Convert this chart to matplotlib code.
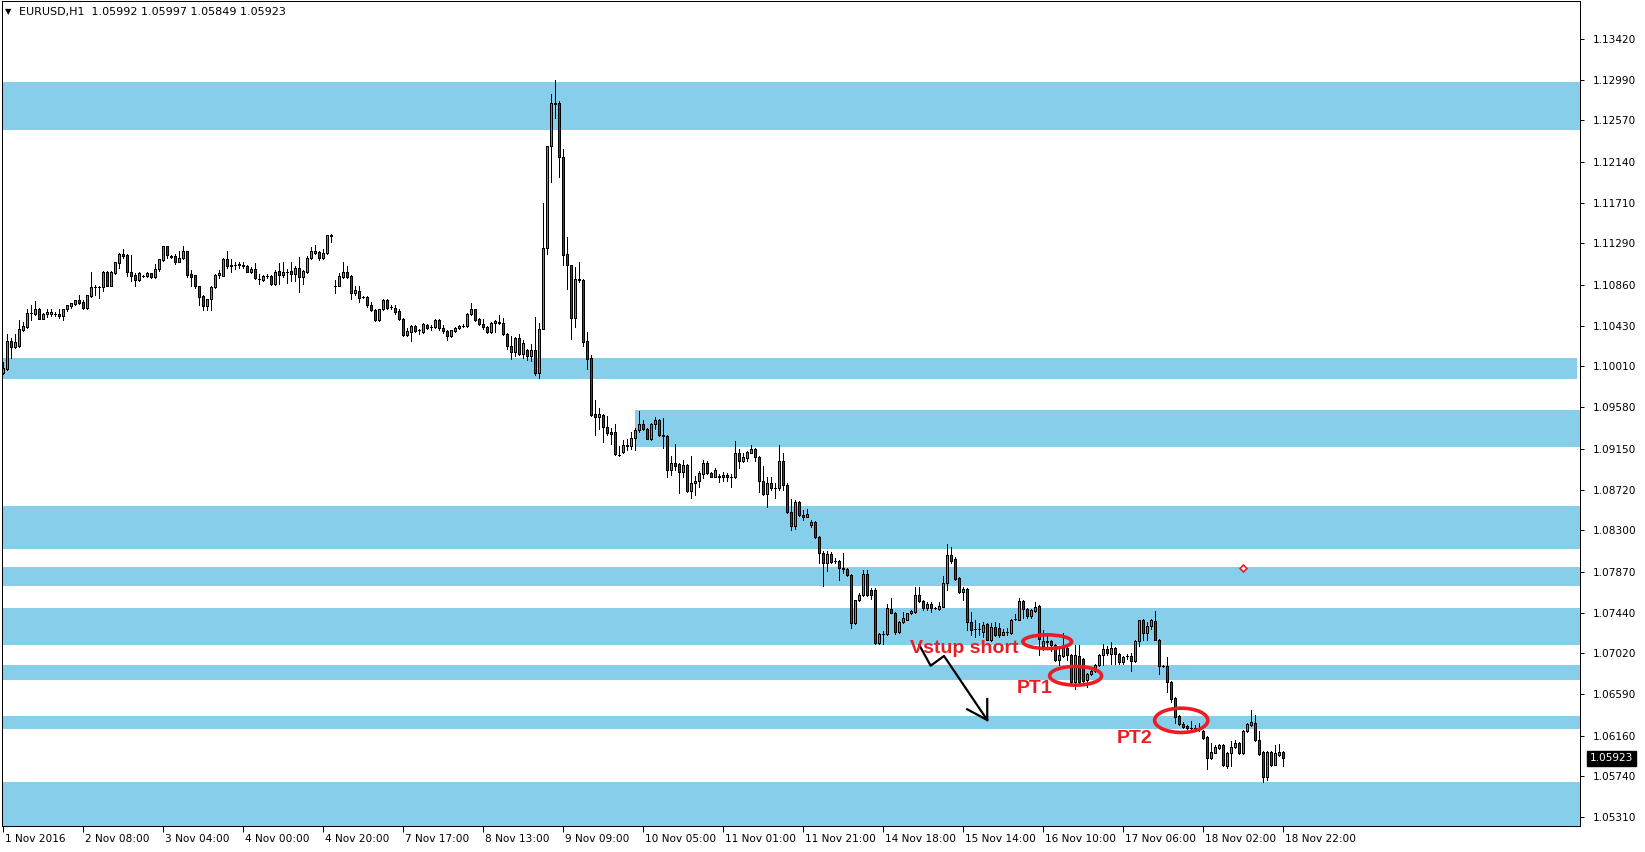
import numpy as np
import matplotlib
matplotlib.use("Agg")
import matplotlib.pyplot as plt
from matplotlib.patches import Ellipse
from matplotlib import transforms

# EURUSD H1 bars, 1 Nov 2016 12:00 .. 18 Nov 22:00
opens = [
    1.0994, 1.0998, 1.1027, 1.1021, 1.1022, 1.1039, 1.1042, 1.1056, 1.1055, 1.1061,
    1.1050, 1.1055, 1.1055, 1.1055, 1.1055, 1.1053, 1.1060, 1.1064, 1.1066, 1.1070,
    1.1068, 1.1062, 1.1074, 1.1083, 1.1083, 1.1083, 1.1099, 1.1085, 1.1098, 1.1108,
    1.1118, 1.1117, 1.1099, 1.1096, 1.1091, 1.1095, 1.1095, 1.1098, 1.1094, 1.1102,
    1.1112, 1.1126, 1.1116, 1.1116, 1.1110, 1.1114, 1.1121, 1.1097, 1.1096, 1.1084,
    1.1074, 1.1064, 1.1071, 1.1083, 1.1096, 1.1095, 1.1113, 1.1105, 1.1106, 1.1106,
    1.1106, 1.1105, 1.1099, 1.1102, 1.1092, 1.1091, 1.1095, 1.1095, 1.1087, 1.1100,
    1.1096, 1.1099, 1.1100, 1.1097, 1.1103, 1.1094, 1.1099, 1.1114, 1.1119, 1.1120,
    1.1114, 1.1119, 1.1137, 1.1085, 1.1085, 1.1094, 1.1099, 1.1095, 1.1077, 1.1079,
    1.1073, 1.1073, 1.1065, 1.1059, 1.1049, 1.1060, 1.1070, 1.1063, 1.1062, 1.1058,
    1.1050, 1.1033, 1.1037, 1.1043, 1.1039, 1.1037, 1.1044, 1.1042, 1.1042, 1.1049,
    1.1041, 1.1038, 1.1032, 1.1038, 1.1041, 1.1043, 1.1043, 1.1055, 1.1060, 1.1050,
    1.1045, 1.1042, 1.1037, 1.1046, 1.1047, 1.1046, 1.1034, 1.1022, 1.1016, 1.1030,
    1.1014, 1.1018, 1.1012, 1.1018, 1.0994, 1.1040, 1.1124, 1.1230, 1.1275, 1.1275,
    1.1219, 1.1118, 1.1106, 1.1051, 1.1092, 1.1091, 1.1027, 1.1009, 1.0951, 1.0948,
    1.0950, 1.0938, 1.0932, 1.0932, 1.0908, 1.0912, 1.0918, 1.0918, 1.0926, 1.0934,
    1.0941, 1.0936, 1.0925, 1.0941, 1.0945, 1.0929, 1.0928, 1.0893, 1.0900, 1.0899,
    1.0891, 1.0898, 1.0871, 1.0879, 1.0881, 1.0889, 1.0900, 1.0890, 1.0886, 1.0887,
    1.0885, 1.0888, 1.0885, 1.0885, 1.0910, 1.0902, 1.0905, 1.0911, 1.0915, 1.0906,
    1.0881, 1.0868, 1.0879, 1.0874, 1.0874, 1.0902, 1.0877, 1.0849, 1.0834, 1.0859,
    1.0846, 1.0844, 1.0836, 1.0839, 1.0823, 1.0806, 1.0796, 1.0805, 1.0798, 1.0798,
    1.0791, 1.0790, 1.0783, 1.0733, 1.0757, 1.0763, 1.0784, 1.0768, 1.0768, 1.0713,
    1.0722, 1.0722, 1.0748, 1.0744, 1.0724, 1.0734, 1.0737, 1.0744, 1.0745, 1.0763,
    1.0756, 1.0749, 1.0753, 1.0749, 1.0748, 1.0750, 1.0775, 1.0804, 1.0800, 1.0780,
    1.0766, 1.0769, 1.0734, 1.0727, 1.0727, 1.0724, 1.0732, 1.0716, 1.0729, 1.0728,
    1.0721, 1.0724, 1.0723, 1.0738, 1.0737, 1.0756, 1.0748, 1.0741, 1.0746, 1.0751,
    1.0709, 1.0715, 1.0715, 1.0710, 1.0695, 1.0699, 1.0707, 1.0700, 1.0672, 1.0699,
    1.0696, 1.0674, 1.0680, 1.0683, 1.0690, 1.0700, 1.0706, 1.0701, 1.0707, 1.0701,
    1.0693, 1.0699, 1.0699, 1.0694, 1.0715, 1.0736, 1.0723, 1.0730, 1.0735, 1.0716,
    1.0689, 1.0689, 1.0672, 1.0655, 1.0636, 1.0628, 1.0626, 1.0624, 1.0624, 1.0624,
    1.0621, 1.0615, 1.0593, 1.0598, 1.0603, 1.0606, 1.0584, 1.0598, 1.0604, 1.0608,
    1.0598, 1.0621, 1.0627, 1.0629, 1.0611, 1.0599, 1.0573, 1.0599, 1.0585, 1.0596,
    1.05992,
]
highs = [
    1.1005, 1.1034, 1.1030, 1.1034, 1.1049, 1.1047, 1.1060, 1.1065, 1.1069, 1.1062,
    1.1056, 1.1061, 1.1060, 1.1057, 1.1060, 1.1061, 1.1065, 1.1067, 1.1070, 1.1075,
    1.1070, 1.1075, 1.1099, 1.1086, 1.1084, 1.1100, 1.1100, 1.1100, 1.1109, 1.1119,
    1.1123, 1.1118, 1.1117, 1.1098, 1.1099, 1.1096, 1.1099, 1.1098, 1.1107, 1.1113,
    1.1126, 1.1126, 1.1117, 1.1118, 1.1121, 1.1126, 1.1121, 1.1101, 1.1096, 1.1085,
    1.1075, 1.1071, 1.1084, 1.1097, 1.1101, 1.1114, 1.1121, 1.1113, 1.1110, 1.1109,
    1.1109, 1.1106, 1.1104, 1.1108, 1.1097, 1.1096, 1.1097, 1.1096, 1.1101, 1.1108,
    1.1109, 1.1102, 1.1109, 1.1105, 1.1115, 1.1101, 1.1116, 1.1125, 1.1127, 1.1121,
    1.1123, 1.1138, 1.1139, 1.1091, 1.1098, 1.1110, 1.1105, 1.1096, 1.1085, 1.1085,
    1.1074, 1.1074, 1.1068, 1.1060, 1.1061, 1.1071, 1.1071, 1.1065, 1.1065, 1.1061,
    1.1051, 1.1041, 1.1044, 1.1044, 1.1040, 1.1046, 1.1045, 1.1044, 1.1050, 1.1050,
    1.1044, 1.1039, 1.1039, 1.1042, 1.1044, 1.1045, 1.1056, 1.1067, 1.1061, 1.1051,
    1.1050, 1.1043, 1.1047, 1.1049, 1.1054, 1.1051, 1.1035, 1.1032, 1.1031, 1.1034,
    1.1028, 1.1019, 1.1024, 1.1052, 1.1046, 1.1171, 1.1230, 1.1284, 1.1299, 1.1277,
    1.1227, 1.1136, 1.1106, 1.1104, 1.1109, 1.1092, 1.1037, 1.1013, 1.0966, 1.0957,
    1.0951, 1.0949, 1.0937, 1.0941, 1.0918, 1.0924, 1.0925, 1.0932, 1.0937, 1.0954,
    1.0945, 1.0937, 1.0942, 1.0948, 1.0946, 1.0947, 1.0929, 1.0907, 1.0920, 1.0900,
    1.0903, 1.0899, 1.0907, 1.0887, 1.0892, 1.0903, 1.0902, 1.0891, 1.0895, 1.0889,
    1.0891, 1.0890, 1.0889, 1.0923, 1.0915, 1.0911, 1.0913, 1.0919, 1.0916, 1.0907,
    1.0897, 1.0885, 1.0885, 1.0879, 1.0919, 1.0911, 1.0879, 1.0863, 1.0862, 1.0860,
    1.0851, 1.0852, 1.0841, 1.0840, 1.0824, 1.0808, 1.0808, 1.0807, 1.0801, 1.0799,
    1.0806, 1.0791, 1.0784, 1.0757, 1.0765, 1.0789, 1.0789, 1.0770, 1.0770, 1.0723,
    1.0725, 1.0753, 1.0759, 1.0745, 1.0735, 1.0745, 1.0744, 1.0747, 1.0771, 1.0771,
    1.0757, 1.0755, 1.0755, 1.0750, 1.0755, 1.0782, 1.0816, 1.0813, 1.0802, 1.0781,
    1.0771, 1.0770, 1.0745, 1.0736, 1.0733, 1.0734, 1.0733, 1.0733, 1.0734, 1.0733,
    1.0727, 1.0728, 1.0738, 1.0743, 1.0759, 1.0757, 1.0749, 1.0748, 1.0755, 1.0752,
    1.0726, 1.0722, 1.0716, 1.0712, 1.0709, 1.0723, 1.0709, 1.0701, 1.0710, 1.0710,
    1.0697, 1.0681, 1.0688, 1.0691, 1.0701, 1.0711, 1.0709, 1.0714, 1.0708, 1.0702,
    1.0699, 1.0701, 1.0702, 1.0716, 1.0737, 1.0738, 1.0734, 1.0738, 1.0746, 1.0717,
    1.0690, 1.0698, 1.0673, 1.0656, 1.0638, 1.0630, 1.0627, 1.0631, 1.0627, 1.0629,
    1.0622, 1.0616, 1.0608, 1.0606, 1.0607, 1.0607, 1.0599, 1.0610, 1.0612, 1.0609,
    1.0622, 1.0629, 1.0643, 1.0638, 1.0621, 1.0600, 1.0600, 1.0600, 1.0606, 1.0607,
    1.05997,
]
lows = [
    1.0993, 1.0997, 1.1009, 1.1020, 1.1021, 1.1038, 1.1041, 1.1049, 1.1054, 1.1050,
    1.1050, 1.1052, 1.1053, 1.1053, 1.1051, 1.1049, 1.1058, 1.1062, 1.1065, 1.1066,
    1.1061, 1.1061, 1.1073, 1.1075, 1.1072, 1.1079, 1.1084, 1.1084, 1.1097, 1.1103,
    1.1114, 1.1095, 1.1090, 1.1084, 1.1090, 1.1094, 1.1094, 1.1093, 1.1093, 1.1100,
    1.1111, 1.1114, 1.1114, 1.1107, 1.1109, 1.1113, 1.1094, 1.1084, 1.1082, 1.1065,
    1.1059, 1.1059, 1.1059, 1.1082, 1.1093, 1.1095, 1.1103, 1.1099, 1.1102, 1.1103,
    1.1103, 1.1099, 1.1098, 1.1092, 1.1087, 1.1090, 1.1093, 1.1086, 1.1086, 1.1087,
    1.1094, 1.1088, 1.1090, 1.1090, 1.1078, 1.1087, 1.1098, 1.1113, 1.1118, 1.1112,
    1.1113, 1.1118, 1.1130, 1.1077, 1.1084, 1.1093, 1.1093, 1.1071, 1.1075, 1.1068,
    1.1072, 1.1063, 1.1058, 1.1048, 1.1048, 1.1059, 1.1061, 1.1060, 1.1055, 1.1049,
    1.1032, 1.1032, 1.1027, 1.1037, 1.1034, 1.1036, 1.1040, 1.1039, 1.1041, 1.1039,
    1.1035, 1.1028, 1.1031, 1.1037, 1.1040, 1.1042, 1.1042, 1.1054, 1.1048, 1.1044,
    1.1040, 1.1035, 1.1035, 1.1037, 1.1045, 1.1033, 1.1019, 1.1008, 1.1012, 1.1013,
    1.1009, 1.1007, 1.1006, 1.0992, 1.0989, 1.1040, 1.1118, 1.1193, 1.1259, 1.1198,
    1.1106, 1.1081, 1.1029, 1.1042, 1.1089, 1.1022, 1.0998, 1.0949, 1.0929, 1.0936,
    1.0922, 1.0929, 1.0920, 1.0908, 1.0907, 1.0911, 1.0914, 1.0915, 1.0914, 1.0932,
    1.0934, 1.0925, 1.0924, 1.0935, 1.0928, 1.0916, 1.0886, 1.0888, 1.0893, 1.0869,
    1.0886, 1.0870, 1.0864, 1.0867, 1.0875, 1.0884, 1.0889, 1.0885, 1.0885, 1.0880,
    1.0881, 1.0881, 1.0875, 1.0884, 1.0895, 1.0901, 1.0902, 1.0910, 1.0902, 1.0870,
    1.0867, 1.0854, 1.0872, 1.0864, 1.0872, 1.0872, 1.0848, 1.0830, 1.0831, 1.0845,
    1.0841, 1.0844, 1.0833, 1.0822, 1.0796, 1.0772, 1.0788, 1.0796, 1.0796, 1.0778,
    1.0786, 1.0782, 1.0728, 1.0732, 1.0756, 1.0761, 1.0762, 1.0758, 1.0712, 1.0711,
    1.0712, 1.0721, 1.0744, 1.0722, 1.0723, 1.0733, 1.0736, 1.0743, 1.0744, 1.0755,
    1.0747, 1.0747, 1.0745, 1.0748, 1.0747, 1.0750, 1.0768, 1.0796, 1.0778, 1.0765,
    1.0757, 1.0726, 1.0721, 1.0719, 1.0721, 1.0719, 1.0716, 1.0715, 1.0720, 1.0719,
    1.0721, 1.0721, 1.0722, 1.0737, 1.0736, 1.0739, 1.0739, 1.0739, 1.0745, 1.0700,
    1.0705, 1.0709, 1.0704, 1.0694, 1.0690, 1.0698, 1.0695, 1.0670, 1.0665, 1.0670,
    1.0671, 1.0667, 1.0679, 1.0682, 1.0689, 1.0690, 1.0700, 1.0691, 1.0691, 1.0691,
    1.0691, 1.0696, 1.0683, 1.0693, 1.0709, 1.0716, 1.0716, 1.0727, 1.0716, 1.0680,
    1.0688, 1.0662, 1.0651, 1.0629, 1.0627, 1.0624, 1.0623, 1.0620, 1.0623, 1.0621,
    1.0613, 1.0581, 1.0592, 1.0598, 1.0602, 1.0584, 1.0582, 1.0584, 1.0603, 1.0597,
    1.0597, 1.0620, 1.0626, 1.0610, 1.0596, 1.0568, 1.0570, 1.0584, 1.0585, 1.0595,
    1.05849,
]
closes = [
    1.0999, 1.1027, 1.1021, 1.1026, 1.1040, 1.1043, 1.1056, 1.1056, 1.1061, 1.1050,
    1.1055, 1.1057, 1.1057, 1.1055, 1.1053, 1.1060, 1.1065, 1.1067, 1.1070, 1.1067,
    1.1062, 1.1075, 1.1083, 1.1083, 1.1083, 1.1099, 1.1085, 1.1099, 1.1109, 1.1118,
    1.1116, 1.1099, 1.1095, 1.1091, 1.1098, 1.1095, 1.1098, 1.1094, 1.1102, 1.1113,
    1.1126, 1.1117, 1.1115, 1.1110, 1.1114, 1.1121, 1.1096, 1.1094, 1.1084, 1.1073,
    1.1064, 1.1071, 1.1083, 1.1096, 1.1098, 1.1113, 1.1105, 1.1106, 1.1106, 1.1107,
    1.1105, 1.1099, 1.1102, 1.1093, 1.1092, 1.1095, 1.1095, 1.1087, 1.1099, 1.1096,
    1.1099, 1.1099, 1.1097, 1.1103, 1.1094, 1.1100, 1.1114, 1.1121, 1.1121, 1.1114,
    1.1119, 1.1138, 1.1138, 1.1085, 1.1095, 1.1099, 1.1094, 1.1077, 1.1080, 1.1072,
    1.1073, 1.1065, 1.1059, 1.1049, 1.1060, 1.1070, 1.1062, 1.1063, 1.1057, 1.1050,
    1.1033, 1.1038, 1.1043, 1.1038, 1.1039, 1.1045, 1.1041, 1.1042, 1.1049, 1.1041,
    1.1038, 1.1032, 1.1039, 1.1041, 1.1043, 1.1043, 1.1055, 1.1060, 1.1049, 1.1045,
    1.1042, 1.1037, 1.1046, 1.1048, 1.1046, 1.1034, 1.1022, 1.1016, 1.1030, 1.1014,
    1.1025, 1.1012, 1.1018, 1.0994, 1.1040, 1.1124, 1.1230, 1.1275, 1.1274, 1.1219,
    1.1117, 1.1106, 1.1051, 1.1092, 1.1091, 1.1026, 1.1008, 1.0950, 1.0948, 1.0951,
    1.0938, 1.0931, 1.0930, 1.0909, 1.0908, 1.0919, 1.0919, 1.0926, 1.0934, 1.0941,
    1.0936, 1.0925, 1.0941, 1.0945, 1.0929, 1.0928, 1.0893, 1.0900, 1.0897, 1.0891,
    1.0898, 1.0871, 1.0879, 1.0881, 1.0890, 1.0900, 1.0890, 1.0886, 1.0893, 1.0886,
    1.0888, 1.0885, 1.0885, 1.0910, 1.0902, 1.0906, 1.0912, 1.0915, 1.0906, 1.0881,
    1.0868, 1.0879, 1.0874, 1.0874, 1.0902, 1.0877, 1.0849, 1.0834, 1.0859, 1.0846,
    1.0844, 1.0847, 1.0839, 1.0823, 1.0806, 1.0796, 1.0805, 1.0797, 1.0798, 1.0791,
    1.0790, 1.0783, 1.0733, 1.0757, 1.0763, 1.0784, 1.0763, 1.0763, 1.0713, 1.0722,
    1.0722, 1.0749, 1.0744, 1.0724, 1.0734, 1.0739, 1.0744, 1.0746, 1.0763, 1.0756,
    1.0749, 1.0753, 1.0749, 1.0749, 1.0751, 1.0775, 1.0804, 1.0798, 1.0779, 1.0766,
    1.0769, 1.0734, 1.0726, 1.0727, 1.0727, 1.0731, 1.0716, 1.0729, 1.0721, 1.0721,
    1.0724, 1.0724, 1.0737, 1.0738, 1.0756, 1.0748, 1.0741, 1.0747, 1.0750, 1.0717,
    1.0715, 1.0714, 1.0710, 1.0695, 1.0700, 1.0707, 1.0700, 1.0672, 1.0700, 1.0672,
    1.0673, 1.0680, 1.0683, 1.0690, 1.0700, 1.0706, 1.0702, 1.0707, 1.0701, 1.0693,
    1.0698, 1.0699, 1.0694, 1.0715, 1.0736, 1.0723, 1.0730, 1.0736, 1.0716, 1.0689,
    1.0689, 1.0672, 1.0654, 1.0635, 1.0628, 1.0625, 1.0624, 1.0624, 1.0624, 1.0623,
    1.0614, 1.0593, 1.0599, 1.0604, 1.0606, 1.0585, 1.0598, 1.0604, 1.0608, 1.0598,
    1.0621, 1.0628, 1.0630, 1.0611, 1.0597, 1.0573, 1.0599, 1.0585, 1.0598, 1.0599,
    1.05923,
]

# x axis: one tick every 20 bars
tick_bars = [0, 20, 40, 60, 80, 100, 120, 140, 160, 180, 200, 220, 240, 260, 280, 300, 320]
tick_labels = ["1 Nov 2016", "2 Nov 08:00", "3 Nov 04:00", "4 Nov 00:00", "4 Nov 20:00",
               "7 Nov 17:00", "8 Nov 13:00", "9 Nov 09:00", "10 Nov 05:00", "11 Nov 01:00",
               "11 Nov 21:00", "14 Nov 18:00", "15 Nov 14:00", "16 Nov 10:00",
               "17 Nov 06:00", "18 Nov 02:00", "18 Nov 22:00"]
price_labels = ["1.13420", "1.12990", "1.12570", "1.12140", "1.11710", "1.11290", "1.10860",
                "1.10430", "1.10010", "1.09580", "1.09150", "1.08720", "1.08300", "1.07870",
                "1.07440", "1.07020", "1.06590", "1.06160", "1.05740", "1.05310"]

# support / resistance zones: low, high, first bar, last bar (None = chart edge)
zone_low = [1.1247, 1.0988, 1.0917, 1.0810, 1.0772, 1.0710, 1.0674, 1.0623, 1.0500]
zone_high = [1.1297, 1.1009, 1.0955, 1.0855, 1.0792, 1.0749, 1.0690, 1.0637, 1.0568]
zone_start = [None, None, 158, None, None, None, None, None, None]
zone_end = [None, 393.4, None, None, None, None, None, None, None]

# hand drawn marks
circle_bar = [261.0, 268.1, 294.5]
circle_price = [1.07139, 1.06784, 1.06320]
circle_w = [12.2, 13.0, 13.3]
circle_h = [0.00143, 0.00195, 0.00253]
arrow_bar = [229.0, 231.85, 235.2, 246.0]
arrow_price = [1.07105, 1.06889, 1.06990, 1.06323]
head_bar = [241.0, 246.0, 246.0]
head_price = [1.06435, 1.06323, 1.06542]
notes = ["Vstup short", "PT1", "PT2"]
note_bar = [226.7, 253.3, 278.5]
note_price = [1.07018, 1.06602, 1.06087]

last_price = 1.05923
GREEN = "#22c322"
RED = "#dd0000"
PAINT_RED = "#ed1c24"
ZONE = "#87ceeb"
PX = 0.72  # one pixel in points at dpi 100

o = np.array(opens)
h = np.array(highs)
l = np.array(lows)
c = np.array(closes)
x = np.arange(len(c))

W, H = 1645, 852
fig = plt.figure(figsize=(W / 100, H / 100), dpi=100)
ax = fig.add_axes([2 / W, 1 - 826 / H, (1580 - 2) / W, (826 - 1) / H])
xmin, xmax = -0.325, 394.2
ax.set_xlim(xmin, xmax)
ax.set_ylim(1.05219, 1.13814)

for lo, hi, x0, x1 in zip(zone_low, zone_high, zone_start, zone_end):
    x0 = xmin if x0 is None else x0
    x1 = xmax if x1 is None else x1
    ax.fill_between([x0, x1], lo, hi, color=ZONE, lw=0, zorder=0)

# candles
ax.vlines(x, l, h, color="black", lw=PX, zorder=2, antialiased=False)
up = c >= o
ax.bar(x[up], c[up] - o[up], bottom=o[up], width=0.58, color=GREEN,
       edgecolor="black", lw=PX, zorder=3, antialiased=False)
ax.bar(x[~up], c[~up] - o[~up], bottom=o[~up], width=0.58, color=RED,
       edgecolor="black", lw=PX, zorder=3, antialiased=False)

# annotations
for xb, yp, w, hh in zip(circle_bar, circle_price, circle_w, circle_h):
    ax.add_patch(Ellipse((xb, yp), w, hh, fill=False, ec=PAINT_RED, lw=2.6, zorder=5))
ax.plot(arrow_bar, arrow_price, color="black", lw=1.6, zorder=5)
ax.plot(head_bar, head_price, color="black", lw=1.6, zorder=5)
for txt, xb, yp in zip(notes, note_bar, note_price):
    ax.text(xb, yp, txt, color=PAINT_RED, fontsize=14, fontweight="bold",
            family=["Liberation Sans", "DejaVu Sans"], va="baseline", ha="left", zorder=6)
ax.plot([310], [1.0791], marker="D", ms=3.5, mfc="white", mec=PAINT_RED, mew=1.2, zorder=6)

# axes styling
for s in ax.spines.values():
    s.set_linewidth(PX)
    s.set_color("black")
ax.yaxis.tick_right()
ax.set_yticks([float(v) for v in price_labels])
ax.set_yticklabels(price_labels)
ax.tick_params(axis="y", direction="out", length=3, width=PX, pad=6, labelsize=7.6)
ax.set_xticks(tick_bars)
ax.set_xticklabels(tick_labels)
ax.tick_params(axis="x", direction="out", length=4, width=PX, pad=2, labelsize=7.6)
shift = transforms.ScaledTranslation(2 / 100, 0, fig.dpi_scale_trans)
for lab in ax.get_xticklabels():
    lab.set_horizontalalignment("left")
    lab.set_transform(lab.get_transform() + shift)

ax.annotate(f"{last_price:.5f}", xy=(1, last_price), xycoords=("axes fraction", "data"),
            xytext=(7, 0), textcoords="offset points", va="center", ha="left",
            color="white", fontsize=7.6,
            bbox=dict(boxstyle="square,pad=0.25", fc="black", ec="black"))

fig.text(5 / W, 1 - 12 / H, "\u25bc", fontsize=6, va="center", ha="left")
fig.text(19 / W, 1 - 12 / H, "EURUSD,H1  1.05992 1.05997 1.05849 1.05923",
         fontsize=8, va="center", ha="left")

fig.savefig("out.png", dpi=100)
